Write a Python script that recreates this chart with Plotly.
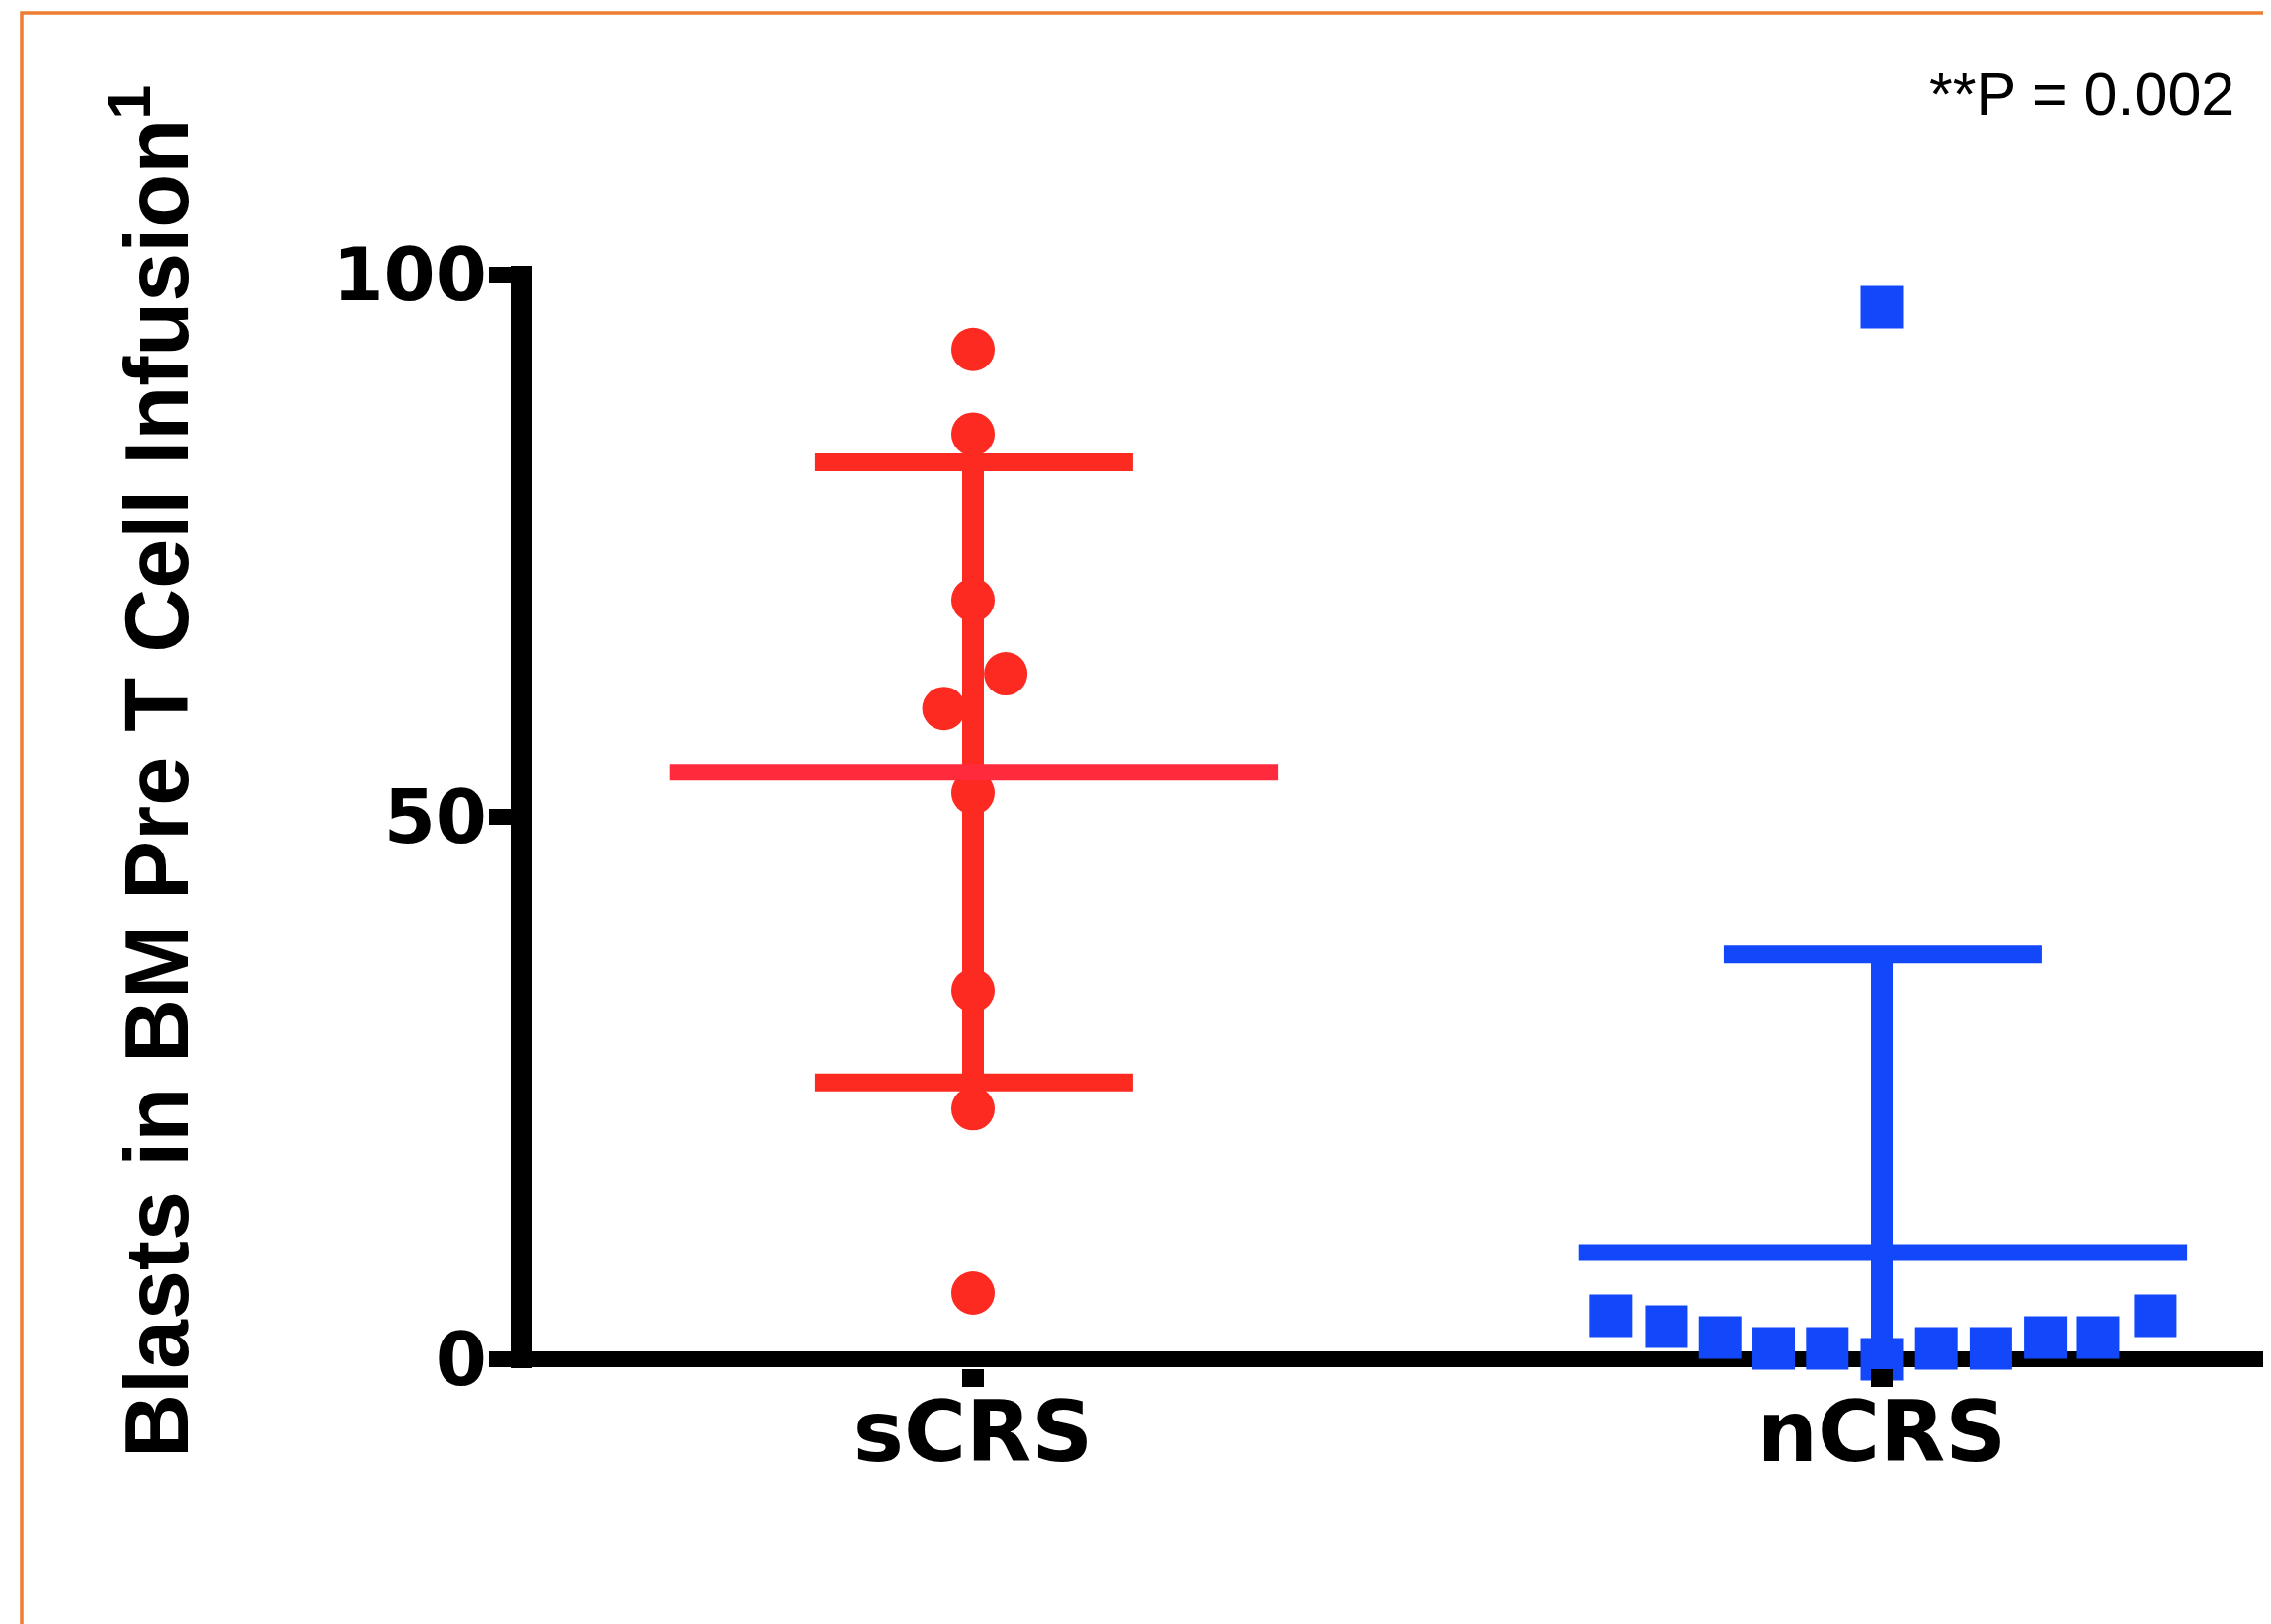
import numpy as np
import plotly.graph_objects as go

# ---------------- data ----------------
categories = ["sCRS", "nCRS"]
scrs_values = [93.1, 85.3, 70.0, 63.2, 60.0, 52.2, 34.0, 23.1, 6.1]
scrs_offsets = [0, 0, 0, 0.036, -0.032, 0, 0, 0, 0]
ncrs_values = [97, 4, 3, 2, 1, 1, 0, 1, 1, 2, 2, 4]
ncrs_offsets = [0, -0.298, -0.237, -0.178, -0.119, -0.060, 0, 0.060, 0.120, 0.180, 0.238, 0.301]
y_ticks = [0, 50, 100]
y_title = "Blasts in BM Pre T Cell Infusion<sup>1</sup>"
p_text = "**P = 0.002"

# ---------------- layout geometry (screen px, page has an 8px body margin) ----------------
OFF = 8
W, H = 2299, 1644
plot_left_s, plot_top_s, plot_bottom_s = 539, 269, 1385
L = plot_left_s - OFF
T = plot_top_s - OFF
B = H - (plot_bottom_s - OFF)
R = 0
PW, PH = W - L - R, H - T - B


def px_x(sx):
    return (sx - OFF - L) / PW


def px_y(sy):
    return (H - B - (sy - OFF)) / PH


RED_DOT = "#FC2A20"
RED_MEAN = "#FF2A3C"
BLUE = "#1248FA"

groups = [
    dict(pos=0, vals=scrs_values, offs=scrs_offsets, color=RED_DOT, mean_color=RED_MEAN,
         symbol="circle", size=44),
    dict(pos=1, vals=ncrs_values, offs=ncrs_offsets, color=BLUE, mean_color=BLUE,
         symbol="square", size=43),
]

fig = go.Figure()
for g in groups:
    vals = np.array(g["vals"], dtype=float)
    xs = [g["pos"] + o for o in g["offs"]]
    fig.add_trace(go.Scatter(
        x=xs, y=vals, mode="markers", cliponaxis=False,
        marker=dict(symbol=g["symbol"], size=g["size"], color=g["color"], line=dict(width=0)),
        showlegend=False, hoverinfo="skip"))

for g in groups:
    vals = np.array(g["vals"], dtype=float)
    m = vals.mean()
    sd = vals.std(ddof=1)
    p = g["pos"]
    fig.add_trace(go.Scatter(x=[p, p], y=[m - sd, m + sd], mode="lines",
                             line=dict(color=g["color"], width=22), showlegend=False, hoverinfo="skip"))
    for yv in (m - sd, m + sd):
        fig.add_trace(go.Scatter(x=[p - 0.174, p + 0.176], y=[yv, yv], mode="lines",
                                 line=dict(color=g["color"], width=18), showlegend=False, hoverinfo="skip"))
    fig.add_trace(go.Scatter(x=[p - 0.334, p + 0.336], y=[m, m], mode="lines",
                             line=dict(color=g["mean_color"], width=17), showlegend=False, hoverinfo="skip"))

px_per_unit = 10.98
y0_s = 1376
ymin = -(plot_bottom_s - y0_s) / px_per_unit
ymax = ymin + PH / px_per_unit

x_px_per_cat = 920
x0_s = 985
xmin = -(x0_s - plot_left_s) / x_px_per_cat
xmax = xmin + PW / x_px_per_cat

fig.update_layout(
    width=W, height=H,
    margin=dict(l=L, r=R, t=T, b=B, pad=0),
    paper_bgcolor="white", plot_bgcolor="white",
    showlegend=False,
    xaxis=dict(
        range=[xmin, xmax], tickvals=[0, 1], ticktext=categories,
        showline=False, showgrid=False, zeroline=False,
        ticks="outside", ticklen=18, tickwidth=22, tickcolor="black",
        ticklabelstandoff=-28,
        tickfont=dict(family="DejaVu Sans", size=86, color="black", weight="bold"),
    ),
    yaxis=dict(
        range=[ymin, ymax], tickvals=y_ticks, ticktext=[str(v) for v in y_ticks],
        showline=True, linewidth=22, linecolor="black",
        showgrid=False, zeroline=True, zerolinewidth=16, zerolinecolor="black",
        ticks="outside", ticklen=22, tickwidth=16, tickcolor="black",
        ticklabelstandoff=-13,
        tickfont=dict(family="DejaVu Sans", size=75, color="black", weight="bold"),
    ),
    annotations=[
        dict(text=y_title, textangle=-90, xref="paper", yref="paper",
             x=px_x(152), y=px_y(781), xanchor="center", yanchor="middle", showarrow=False,
             font=dict(family="Liberation Sans", size=90, color="black", weight="bold")),
        dict(text=p_text, xref="paper", yref="paper",
             x=px_x(2264), y=px_y(95), xanchor="right", yanchor="middle", showarrow=False,
             font=dict(family="Liberation Sans", size=61, color="black")),
    ],
    shapes=[
        dict(type="rect", xref="paper", yref="paper",
             x0=px_x(22), x1=px_x(2330), y0=px_y(1680), y1=px_y(13),
             line=dict(color="#ED7D31", width=3.5), fillcolor="rgba(0,0,0,0)", layer="below"),
    ],
)

fig.write_html("out.html", config={"displayModeBar": False})
